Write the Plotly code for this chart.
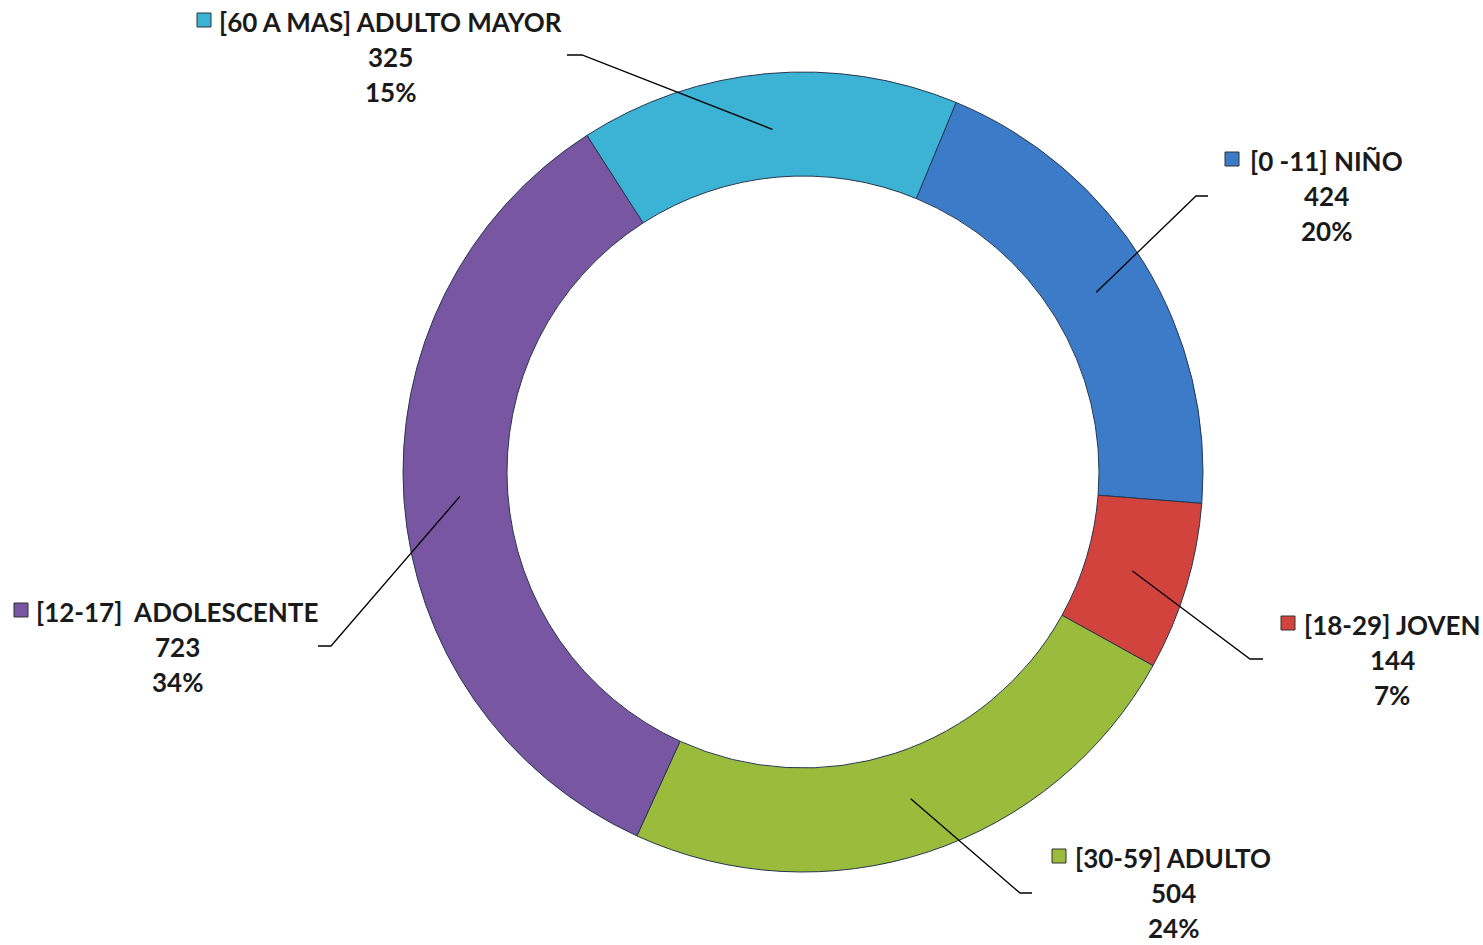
import math
import plotly.graph_objects as go

# data
grupos = ["[0 -11] NIÑO", "[18-29] JOVEN", "[30-59] ADULTO",
          "[12-17]  ADOLESCENTE", "[60 A MAS] ADULTO MAYOR"]
cantidad = [424, 144, 504, 723, 325]
colores = ["#3b7bc8", "#d3433d", "#9abb3b", "#7856a2", "#3cb3d5"]

W, H = 1483, 945
CX, CY, R = 803, 472, 400      # pie centre and outer radius, pixels
HOLE = 0.74
ROT = 22.5

# label layout (pixels): text centre x, first line y, square x, elbow point, line end x
label_pos = [
    dict(tx=1326, ty=161, sx=1232, ex=1196, ey=196, lx=1208),
    dict(tx=1392, ty=625, sx=1288, ex=1250, ey=659, lx=1263),
    dict(tx=1173, ty=858, sx=1059, ex=1020, ey=893, lx=1032),
    dict(tx=177, ty=612, sx=21, ex=331, ey=646, lx=318),
    dict(tx=391, ty=22, sx=204, ex=582, ey=55, lx=567),
]


def px(x):
    return x / W


def py(y):
    return 1 - y / H


fig = go.Figure()
fig.add_trace(go.Pie(
    labels=grupos, values=cantidad, hole=HOLE, sort=False,
    direction="clockwise", rotation=ROT, textinfo="none",
    marker=dict(colors=colores, line=dict(color="#26374f", width=1)),
    domain=dict(x=[px(CX - R), px(CX + R)], y=[py(CY + R), py(CY - R)]),
    showlegend=False,
))

total = sum(cantidad)
acum = 0
annotations = []
shapes = []
font = dict(family="Lato", size=26, color="#1a1a1a", weight="bold")
for g, v, c, p in zip(grupos, cantidad, colores, label_pos):
    mid = ROT + (acum + v / 2) / total * 360
    acum += v
    rm = R * (1 + HOLE) / 2 - 4
    x0 = CX + rm * math.sin(math.radians(mid))
    y0 = CY - rm * math.cos(math.radians(mid))
    shapes.append(dict(
        type="path", xref="paper", yref="paper",
        path=f"M {px(x0)} {py(y0)} L {px(p['ex'])} {py(p['ey'])} L {px(p['lx'])} {py(p['ey'])}",
        line=dict(color="black", width=1.3)))
    pct = f"{round(v / total * 100)}%"
    for i, t in enumerate([g, str(v), pct]):
        annotations.append(dict(
            x=px(p["tx"]), y=py(p["ty"] + i * 35), xref="paper", yref="paper",
            text=t, showarrow=False, xanchor="center", yanchor="middle", font=font))
    shapes.append(dict(
        type="rect", xref="paper", yref="paper",
        x0=px(p["sx"] - 7), x1=px(p["sx"] + 7),
        y0=py(p["ty"] + 5), y1=py(p["ty"] - 9),
        fillcolor=c, line=dict(color="#333333", width=1)))

fig.update_layout(
    width=W, height=H, margin=dict(l=0, r=0, t=0, b=0),
    paper_bgcolor="white", plot_bgcolor="white",
    annotations=annotations, shapes=shapes,
)

# drop the browser's default body margin so the figure fills the window
fig.write_html("out.html", config={"displayModeBar": False},
               post_script="document.body.style.margin='0';")
